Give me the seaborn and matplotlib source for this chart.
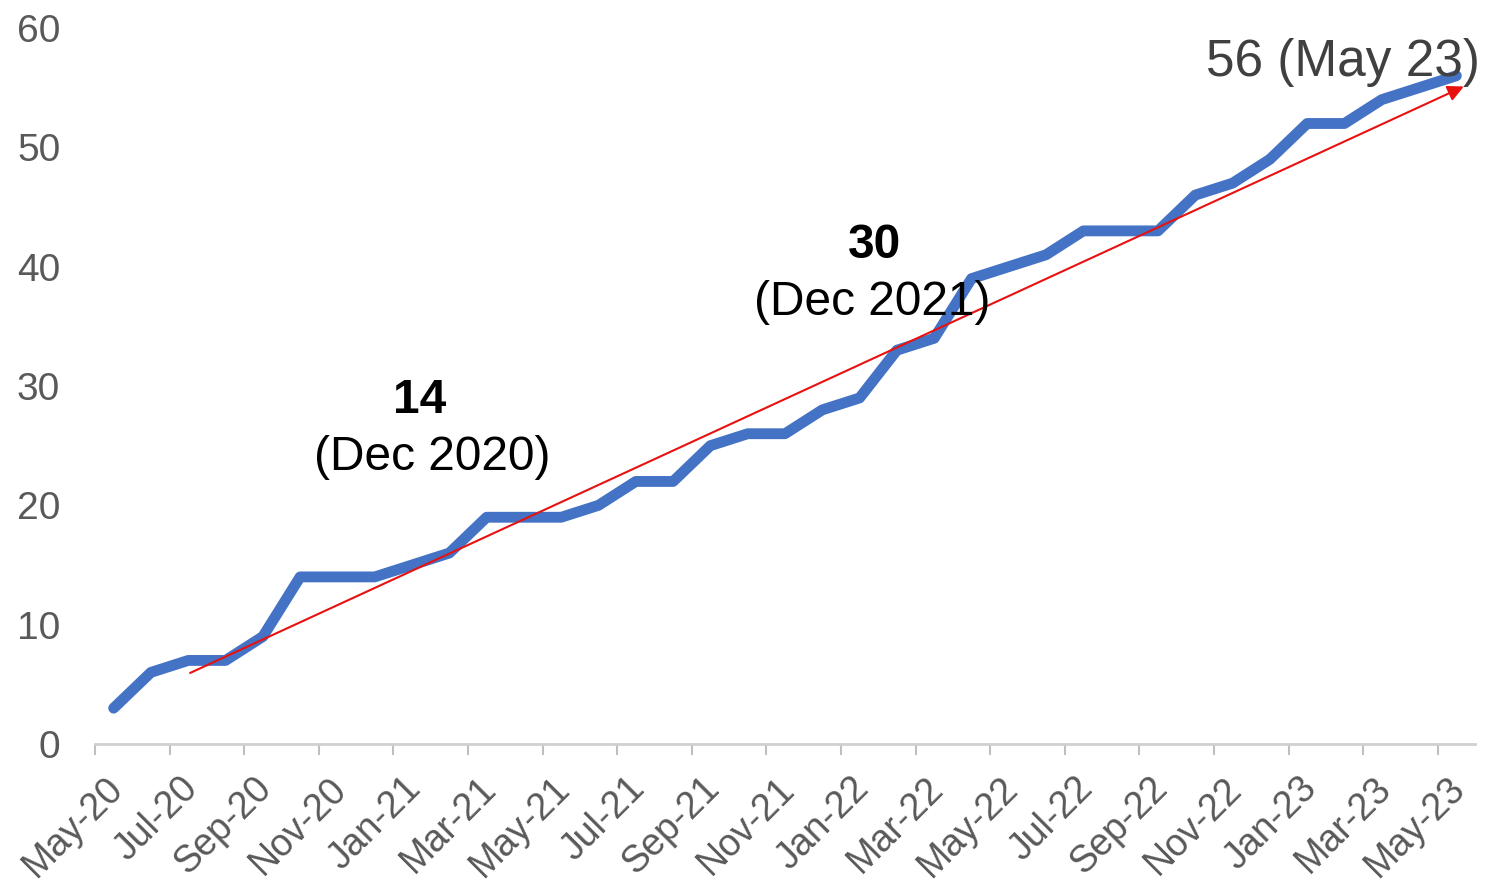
import matplotlib
matplotlib.use('Agg')
import matplotlib.pyplot as plt
import matplotlib.transforms as mtransforms
import seaborn as sns
import pandas as pd
import numpy as np

# DATA
MONTHS = ['May-20', 'Jun-20', 'Jul-20', 'Aug-20', 'Sep-20', 'Oct-20', 'Nov-20', 'Dec-20',
          'Jan-21', 'Feb-21', 'Mar-21', 'Apr-21', 'May-21', 'Jun-21', 'Jul-21', 'Aug-21',
          'Sep-21', 'Oct-21', 'Nov-21', 'Dec-21', 'Jan-22', 'Feb-22', 'Mar-22', 'Apr-22',
          'May-22', 'Jun-22', 'Jul-22', 'Aug-22', 'Sep-22', 'Oct-22', 'Nov-22', 'Dec-22',
          'Jan-23', 'Feb-23', 'Mar-23', 'Apr-23', 'May-23']
VALUES = [3, 6, 7, 7, 9, 14, 14, 14,
          15, 16, 19, 19, 19, 20, 22, 22,
          25, 26, 26, 28, 29, 33, 34, 39,
          40, 41, 43, 43, 43, 46, 47, 49,
          52, 52, 54, 55, 56]
Y_TICKS = [0, 10, 20, 30, 40, 50, 60]
# trend arrow: start/end (month index, value)
TREND_START = (2.05, 5.95)
TREND_END = (36.2, 55.1)

sns.set_theme(style='white')
plt.rcParams['font.family'] = ['Liberation Sans', 'DejaVu Sans']

df = pd.DataFrame({'idx': np.arange(len(MONTHS)), 'month': MONTHS, 'value': VALUES})

fig = plt.figure(figsize=(14.89, 8.93), dpi=100)
ax = fig.add_axes([0.0638, 0.1669, 0.9268, 0.8017])

sns.lineplot(data=df, x='idx', y='value', ax=ax, color='#4472C4', linewidth=7.8,
             solid_capstyle='round', solid_joinstyle='round')

ax.annotate('', xy=TREND_END, xytext=TREND_START,
            arrowprops=dict(arrowstyle='-|>', color='#E8110F', lw=1.5,
                            mutation_scale=24, shrinkA=0, shrinkB=0))

ax.set_xlim(-0.5, len(MONTHS) - 0.5)
ax.set_ylim(0, 60)
ax.set_yticks(Y_TICKS)
ax.set_yticklabels([str(v) for v in Y_TICKS], fontsize=28, color='#595959')

major = np.arange(0, len(MONTHS), 2)
ax.set_xticks(major)
ax.set_xticklabels([MONTHS[i] for i in major], rotation=45, ha='right',
                   rotation_mode='anchor', fontsize=27, color='#595959')
ax.set_xticks(major - 0.5, minor=True)
ax.tick_params(axis='x', which='major', length=0, pad=19)
ax.tick_params(axis='x', which='minor', length=8, width=1.5, color='#BFBFBF', bottom=True)
ax.tick_params(axis='y', length=0, pad=25)

# nudge the rotated month labels a little to the left
shift = mtransforms.ScaledTranslation(-9 / 100, 0, fig.dpi_scale_trans)
for lbl in ax.get_xticklabels():
    lbl.set_transform(lbl.get_transform() + shift)

for side in ['top', 'right', 'left']:
    ax.spines[side].set_visible(False)
ax.spines['bottom'].set_color('#D0D0D0')
ax.spines['bottom'].set_linewidth(2)
ax.set_xlabel('')
ax.set_ylabel('')
ax.grid(False)

ax.text(8.2, 28.8, '14', fontsize=34.5, fontweight='bold', ha='center', va='center', color='black')
ax.text(8.55, 24.0, '(Dec 2020)', fontsize=34.5, ha='center', va='center', color='black')
ax.text(20.4, 41.8, '30', fontsize=34.5, fontweight='bold', ha='center', va='center', color='black')
ax.text(20.35, 37.0, '(Dec 2021)', fontsize=34.5, ha='center', va='center', color='black')
ax.text(32.95, 57.1, '56 (May 23)', fontsize=37, ha='center', va='center', color='#404040')

fig.savefig('out.png', dpi=100)
